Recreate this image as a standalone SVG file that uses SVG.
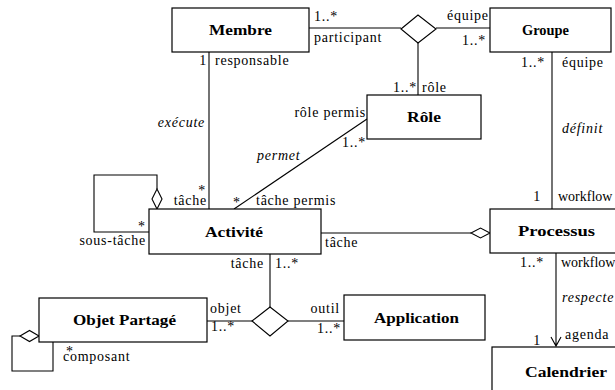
<svg xmlns="http://www.w3.org/2000/svg" width="615" height="390" viewBox="0 0 615 390">
<style>
.box{fill:#fff;stroke:#000;stroke-width:1.2}
.ln{fill:none;stroke:#000;stroke-width:1.1}
.dia{fill:#fff;stroke:#000;stroke-width:1.1}
.t{font-family:"Liberation Serif","Times New Roman",serif;font-weight:bold;font-size:15px;text-anchor:middle;fill:#000}
.l{font-family:"Liberation Serif","Times New Roman",serif;font-size:14px;letter-spacing:0.75px;fill:#000}
.n{letter-spacing:0}
.i{font-style:italic}
.r{text-anchor:end}
</style>
<rect width="615" height="390" fill="#fff"/>
<g id="connectors">
<path class="ln" d="M309,28 H401 M436,28 H490"/>
<path class="ln" d="M418,43 V95"/>
<path class="ln" d="M552,52 V209"/>
<path class="ln" d="M209,52 V209"/>
<path class="ln" d="M367,119 L234,209"/>
<path class="ln" d="M321,233 H471"/>
<path class="dia" d="M471,233 L480.5,228 L490,233 L480.5,238 Z"/>
<path class="ln" d="M556,253 V346 M551,337 L556,346 L561,337"/>
<path class="ln" d="M157,189 V175 H94 V232 H149"/>
<path class="dia" d="M157,189 L162,199 L157,209 L152,199 Z"/>
<path class="ln" d="M270,254 V307 M207,321 H252 M287,321 H344"/>
<path class="dia" d="M252,321 L270,307 L288,321 L270,336 Z"/>
<path class="dia" d="M401,29 L418,15 L436,29 L418,43 Z"/>
<path class="ln" d="M20,336 H12 V371 H53 V342"/>
<path class="dia" d="M20,336 L29.5,330.5 L39,336 L29.5,341.5 Z"/>
</g>
<g id="membre"><rect class="box" x="172" y="8" width="137" height="44"/><text class="t" x="240.5" y="35" textLength="63" lengthAdjust="spacingAndGlyphs">Membre</text></g>
<g id="groupe"><rect class="box" x="490" y="8" width="121" height="44"/><text class="t" x="545.5" y="35" textLength="47" lengthAdjust="spacingAndGlyphs">Groupe</text></g>
<g id="role"><rect class="box" x="367" y="95" width="114" height="44"/><text class="t" x="424" y="122" textLength="34" lengthAdjust="spacingAndGlyphs">Rôle</text></g>
<g id="activite"><rect class="box" x="149" y="209" width="172" height="45"/><text class="t" x="234" y="237" textLength="58" lengthAdjust="spacingAndGlyphs">Activité</text></g>
<g id="processus"><rect class="box" x="490" y="209" width="140" height="44"/><text class="t" x="556.5" y="236" textLength="77" lengthAdjust="spacingAndGlyphs">Processus</text></g>
<g id="objet"><rect class="box" x="39" y="298" width="168" height="44"/><text class="t" x="124.5" y="325" textLength="103" lengthAdjust="spacingAndGlyphs">Objet Partagé</text></g>
<g id="application"><rect class="box" x="344" y="295" width="141" height="45"/><text class="t" x="416.5" y="323" textLength="85" lengthAdjust="spacingAndGlyphs">Application</text></g>
<g id="calendrier"><rect class="box" x="492" y="347" width="140" height="60"/><text class="t" x="566" y="377" textLength="82" lengthAdjust="spacingAndGlyphs">Calendrier</text></g>
<g id="labels">
<text class="l" x="314" y="21">1..*</text>
<text class="l" x="314" y="42">participant</text>
<text class="l" x="447" y="20">équipe</text>
<text class="l" x="462" y="45">1..*</text>
<text class="l r" x="207" y="65">1</text>
<text class="l" x="215" y="65">responsable</text>
<text class="l r" x="417" y="92">1..*</text>
<text class="l" x="422" y="92">rôle</text>
<text class="l r" x="545" y="67">1..*</text>
<text class="l" x="562" y="67">équipe</text>
<text class="l i" x="562" y="133">définit</text>
<text class="l r" x="541" y="201">1</text>
<text class="l n" x="558" y="201">workflow</text>
<text class="l i r" x="205" y="127">exécute</text>
<text class="l r" x="366" y="117">rôle permis</text>
<text class="l r" x="366" y="147">1..*</text>
<text class="l i" x="257" y="160">permet</text>
<text class="l r" x="206" y="195">*</text>
<text class="l r" x="207" y="205">tâche</text>
<text class="l" x="233" y="207">*</text>
<text class="l" x="256" y="205">tâche permis</text>
<text class="l" x="138" y="231">*</text>
<text class="l r" x="146" y="245">sous-tâche</text>
<text class="l" x="325" y="247">tâche</text>
<text class="l r" x="544" y="267">1..*</text>
<text class="l n" x="561" y="267">workflow</text>
<text class="l i" x="562" y="302">respecte</text>
<text class="l r" x="541" y="345">1</text>
<text class="l" x="565" y="339">agenda</text>
<text class="l r" x="264" y="268">tâche</text>
<text class="l" x="275" y="268">1..*</text>
<text class="l" x="210" y="313">objet</text>
<text class="l" x="211" y="331">1..*</text>
<text class="l r" x="340" y="313">outil</text>
<text class="l r" x="341" y="333">1..*</text>
<text class="l" x="66" y="356">*</text>
<text class="l" x="63" y="361">composant</text>
</g>
</svg>
